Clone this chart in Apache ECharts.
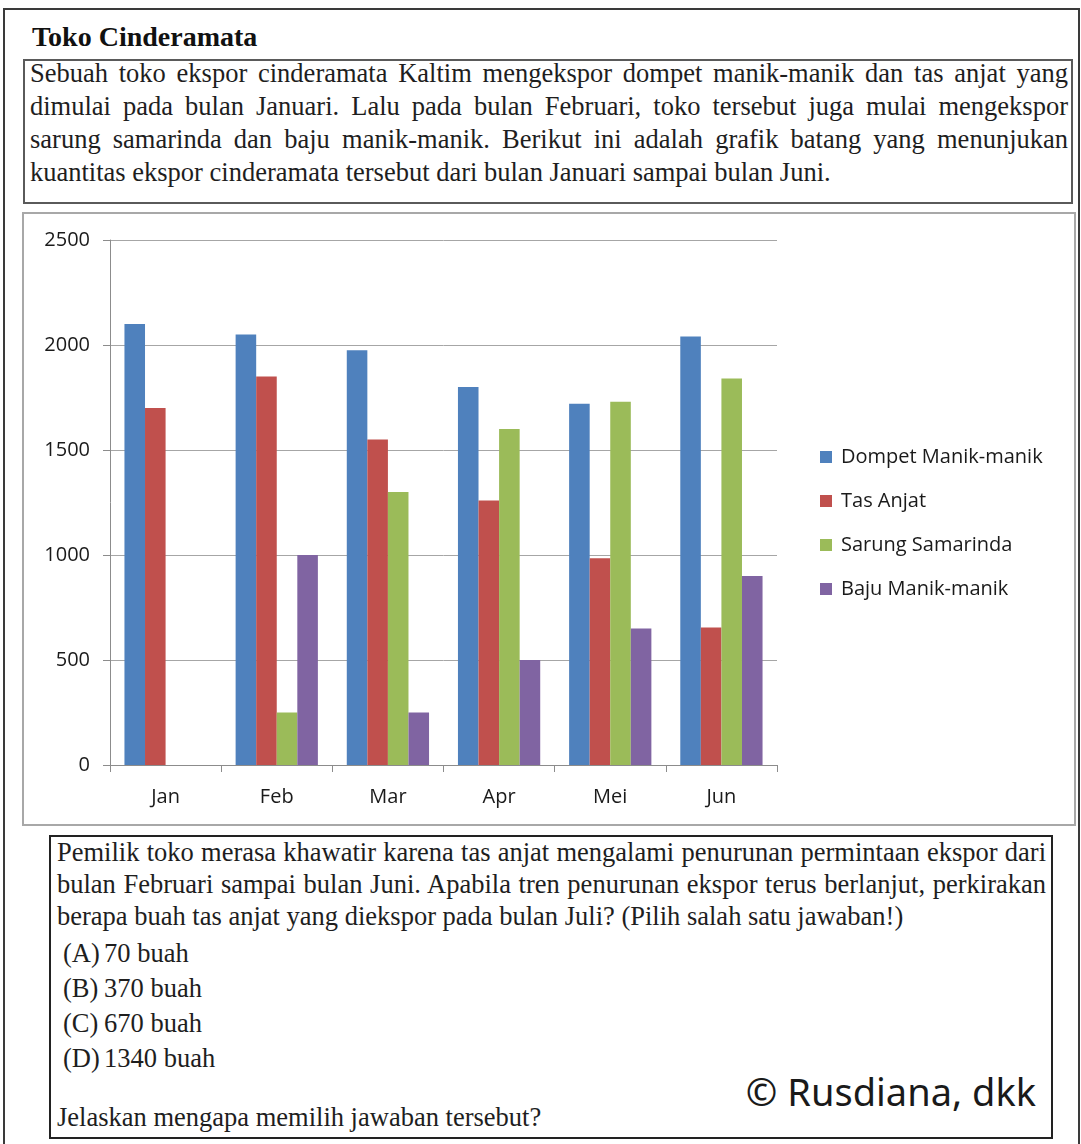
<!DOCTYPE html>
<html>
<head>
<meta charset="utf-8">
<script src="https://cdn.jsdelivr.net/npm/echarts@6/dist/echarts.min.js"></script>
<style>
  html, body { margin: 0; padding: 0; background: #fff; }
  body { width: 1081px; height: 1144px; position: relative; overflow: hidden; }
  .box { position: absolute; box-sizing: border-box; }
  .t { position: absolute; font-family: "Liberation Serif", "Times New Roman", serif; font-size: 26.5px; line-height: 26.5px; color: #1e1e1e; white-space: nowrap; }
  .j { text-align: justify; text-align-last: justify; }
</style>
</head>
<body>
<div class="box" style="left:3px; top:8px; width:1077px; height:1150px; border:2px solid #3a3a3a;"></div>
<div class="t" id="title" style="left:32px; top:23px; font-size:28px; line-height:28px; font-weight:bold; color:#111;">Toko Cinderamata</div>

<div class="box" style="left:23px; top:59px; width:1050px; height:145px; border:2px solid #5a5a5a;"></div>
<div id="intro"></div>

<div class="box" style="left:22px; top:212px; width:1054px; height:614px; border:2px solid #a8a8a8;"></div>
<div id="chart" style="position:absolute; left:24px; top:214px; width:1050px; height:610px;"></div>

<div class="box" style="left:49px; top:835px; width:1004px; height:304px; border:2px solid #222;"></div>
<div id="question"></div>
<div style="position:absolute; right:45px; top:1072px; font-family:'Noto Sans','Open Sans',sans-serif; font-size:38px; line-height:38px; color:#1a1a1a; white-space:nowrap;">© Rusdiana, dkk</div>

<script>
// ---- Data ----
const categories = ['Jan', 'Feb', 'Mar', 'Apr', 'Mei', 'Jun'];
const seriesNames = ['Dompet Manik-manik', 'Tas Anjat', 'Sarung Samarinda', 'Baju Manik-manik'];
const dompetManik = [2100, 2050, 1975, 1800, 1720, 2040];
const tasAnjat = [1700, 1850, 1550, 1260, 985, 655];
const sarungSamarinda = [null, 250, 1300, 1600, 1730, 1840];
const bajuManik = [null, 1000, 250, 500, 650, 900];
const yMin = 0, yMax = 2500, yStep = 500;

// ---- Text ----
const introLines = [
  'Sebuah toko ekspor cinderamata Kaltim mengekspor dompet manik-manik dan tas anjat yang',
  'dimulai pada bulan Januari. Lalu pada bulan Februari, toko tersebut juga mulai mengekspor',
  'sarung samarinda dan baju manik-manik. Berikut ini adalah grafik batang yang menunjukan',
  'kuantitas ekspor cinderamata tersebut dari bulan Januari sampai bulan Juni.'
];
const questionLines = [
  'Pemilik toko merasa khawatir karena tas anjat mengalami penurunan permintaan ekspor dari',
  'bulan Februari sampai bulan Juni. Apabila tren penurunan ekspor terus berlanjut, perkirakan',
  'berapa buah tas anjat yang diekspor pada bulan Juli? (Pilih salah satu jawaban!)'
];
const optionLetters = ['(A)', '(B)', '(C)', '(D)'];
const optionTexts = ['70 buah', '370 buah', '670 buah', '1340 buah'];
const closingLine = 'Jelaskan mengapa memilih jawaban tersebut?';

function addLine(parent, text, left, baseline, width, justify) {
  const d = document.createElement('div');
  d.className = 't' + (justify ? ' j' : '');
  d.textContent = text;
  d.style.left = left + 'px';
  d.style.top = (baseline - 0.8375 * 26.5) + 'px';
  if (width) d.style.width = width + 'px';
  parent.appendChild(d);
}
const intro = document.getElementById('intro');
introLines.forEach((s, i) => addLine(intro, s, 30, 82 + i * 33, 1038, i < introLines.length - 1));
const q = document.getElementById('question');
questionLines.forEach((s, i) => addLine(q, s, 57, 861 + i * 32, 989, i < questionLines.length - 1));
optionLetters.forEach((s, i) => {
  addLine(q, s, 63, 962 + i * 35, null, false);
  addLine(q, optionTexts[i], 104, 962 + i * 35, null, false);
});
addLine(q, closingLine, 57, 1126, null, false);

// ---- Chart ----
const chart = echarts.init(document.getElementById('chart'), null, { renderer: 'canvas' });
const colors = ['#4F81BD', '#C0504D', '#9BBB59', '#8064A2'];
const dataSets = [dompetManik, tasAnjat, sarungSamarinda, bajuManik];
const font = "'Open Sans', 'Noto Sans', sans-serif";
chart.setOption({
  animation: false,
  color: colors,
  grid: { left: 86, top: 26, width: 667, height: 525, containLabel: false },
  legend: {
    orient: 'vertical',
    left: 791,
    top: 228,
    itemWidth: 12,
    itemHeight: 12,
    itemGap: 24,
    icon: 'rect',
    data: seriesNames,
    textStyle: { fontFamily: font, fontSize: 20, lineHeight: 20, color: '#1a1a1a', padding: [0, 0, 0, 4] }
  },
  xAxis: {
    type: 'category',
    data: categories,
    axisLine: { show: true, lineStyle: { color: '#8c8c8c', width: 1 } },
    axisTick: { show: true, length: 7, lineStyle: { color: '#8c8c8c' } },
    axisLabel: { fontFamily: font, fontSize: 20, color: '#1a1a1a', margin: 22 }
  },
  yAxis: {
    type: 'value',
    min: yMin, max: yMax, interval: yStep,
    axisLine: { show: true, lineStyle: { color: '#8c8c8c', width: 1 } },
    axisTick: { show: true, length: 7, lineStyle: { color: '#8c8c8c' } },
    splitLine: { show: true, lineStyle: { color: '#a6a6a6', width: 1 } },
    axisLabel: { fontFamily: font, fontSize: 20, color: '#1a1a1a', margin: 20, formatter: v => String(v) }
  },
  series: seriesNames.map((name, i) => ({
    name: name,
    type: 'bar',
    data: dataSets[i],
    barGap: '0%',
    barCategoryGap: '26%',
    itemStyle: { color: colors[i] }
  }))
});
</script>
</body>
</html>
